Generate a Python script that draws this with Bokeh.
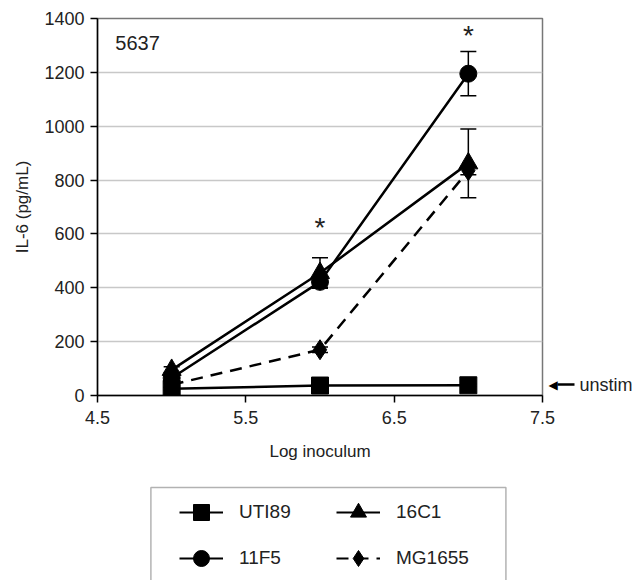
from bokeh.plotting import figure
from bokeh.layouts import column
from bokeh.models import (Range1d, FixedTicker, ColumnDataSource, Whisker, TeeHead,
                          Legend, LegendItem, Label, LinearAxis, BoxAnnotation)
from bokeh.embed import file_html
from bokeh.resources import INLINE

# ---- data ----
log_inoculum = [5, 6, 7]
uti89 = [25, 37, 38]
uti89_err = [6, 5, 5]
c16c1 = [95, 455, 862]
c16c1_err = [12, 57, 128]
f11f5 = [65, 422, 1195]
f11f5_err = [20, 20, 82]
mg1655 = [40, 170, 835]
mg1655_err = [10, 10, 15]
sig_x = [6, 7]
sig_y = [625, 1338]
unstim_level = 40
x_ticks = [4.5, 5.5, 6.5, 7.5]
y_ticks = [0, 200, 400, 600, 800, 1000, 1200, 1400]
strain_names = ["UTI89", "16C1", "11F5", "MG1655"]

FONT = "Liberation Sans"
TXT = "#222222"
NAN = float("nan")

p = figure(width=635, height=470, output_backend="svg", toolbar_location=None,
           x_range=Range1d(4.5, 7.5), y_range=Range1d(0, 1400),
           min_border_left=97, min_border_right=88, min_border_top=18, min_border_bottom=75)
p.background_fill_color = "white"
p.border_fill_color = "white"
p.outline_line_color = "#777777"
p.outline_line_width = 1.5

p.xgrid.visible = False
p.ygrid.grid_line_color = "#c8c8c8"
p.ygrid.grid_line_width = 1.5

p.xaxis.ticker = FixedTicker(ticks=x_ticks)
p.yaxis.ticker = FixedTicker(ticks=y_ticks)
for ax in (p.xaxis[0], p.yaxis[0]):
    ax.axis_line_color = "black"
    ax.axis_line_width = 1.5
    ax.major_tick_line_color = "black"
    ax.major_tick_line_width = 1.5
    ax.major_tick_in = 0
    ax.major_tick_out = 7
    ax.minor_tick_line_color = None
    ax.major_label_text_font = FONT
    ax.major_label_text_font_size = "18px"
    ax.major_label_text_color = TXT
    ax.axis_label_text_font = FONT
    ax.axis_label_text_font_size = "17px"
    ax.axis_label_text_font_style = "normal"
    ax.axis_label_text_color = TXT
p.xaxis.axis_label = "Log inoculum"
p.yaxis.axis_label = "IL-6 (pg/mL)"
p.xaxis.major_label_standoff = 8
p.xaxis.axis_label_standoff = 15
p.yaxis.major_label_standoff = 6
p.yaxis.axis_label_standoff = 9

# unstimulated level marker on the right: arrow head, then shaft + label
head_axis = LinearAxis(ticker=FixedTicker(ticks=[unstim_level]),
                       major_label_overrides={unstim_level: "\u25c0"})
head_axis.axis_line_color = None
head_axis.minor_tick_line_color = None
head_axis.major_tick_line_color = None
head_axis.major_tick_in = 0
head_axis.major_tick_out = 0
head_axis.major_label_standoff = 6
head_axis.major_label_text_font = "DejaVu Sans"
head_axis.major_label_text_font_size = "12px"
head_axis.major_label_text_color = "black"
p.add_layout(head_axis, "right")

unstim_axis = LinearAxis(ticker=FixedTicker(ticks=[unstim_level]),
                         major_label_overrides={unstim_level: "unstim"})
unstim_axis.axis_line_color = None
unstim_axis.minor_tick_line_color = None
unstim_axis.major_tick_line_color = "black"
unstim_axis.major_tick_line_width = 2.5
unstim_axis.major_tick_in = 3
unstim_axis.major_tick_out = 14
unstim_axis.major_label_standoff = 5
unstim_axis.major_label_text_font = FONT
unstim_axis.major_label_text_font_size = "18px"
unstim_axis.major_label_text_color = TXT
p.add_layout(unstim_axis, "right")

styles = {
    "UTI89": ("square", 17, "solid"),
    "16C1": ("triangle", 19, "solid"),
    "11F5": ("circle", 17, "solid"),
    "MG1655": ("diamond", 20, "12 8"),
}
values = {"UTI89": (uti89, uti89_err), "16C1": (c16c1, c16c1_err),
          "11F5": (f11f5, f11f5_err), "MG1655": (mg1655, mg1655_err)}

for name in strain_names:
    vals, errs = values[name]
    marker, size, dash = styles[name]
    src = ColumnDataSource(dict(x=log_inoculum, y=vals,
                                upper=[v + e for v, e in zip(vals, errs)],
                                lower=[v - e for v, e in zip(vals, errs)]))
    w = Whisker(source=src, base="x", upper="upper", lower="lower", dimension="height",
                line_color="black", line_width=1.5, level="underlay",
                upper_head=TeeHead(size=16, line_color="black", line_width=1.5),
                lower_head=TeeHead(size=16, line_color="black", line_width=1.5))
    p.add_layout(w)
    p.line("x", "y", source=src, line_color="black", line_width=2.5, line_dash=dash)
    p.scatter("x", "y", source=src, marker=marker, size=size,
              fill_color="black", line_color="black")

# significance asterisks
for sx, sy in zip(sig_x, sig_y):
    p.add_layout(Label(x=sx, y=sy, text="*", text_font=FONT, text_font_size="28px",
                       text_color=TXT, text_align="center", text_baseline="middle"))

# cell line label
p.add_layout(Label(x=4.62, y=1310, text="5637", text_font=FONT, text_font_size="20px",
                   text_color=TXT, text_align="left", text_baseline="middle"))

# ---- legend panel below the chart (x units = page pixels) ----
lp = figure(width=635, height=110, output_backend="svg", toolbar_location=None,
            x_range=Range1d(97, 547), y_range=Range1d(0, 110),
            min_border_left=97, min_border_right=88, min_border_top=0, min_border_bottom=0)
lp.axis.visible = False
lp.grid.visible = False
lp.outline_line_color = None
lp.background_fill_color = "white"
lp.border_fill_color = "white"

items = []
for name in strain_names:
    marker, size, dash = styles[name]
    proxy = ColumnDataSource(dict(x=[NAN], y=[NAN]))
    lr = lp.line("x", "y", source=proxy, line_color="black", line_width=2, line_dash=dash)
    sr = lp.scatter("x", "y", source=proxy, marker=marker, size=size,
                    fill_color="black", line_color="black")
    items.append(LegendItem(label=name, renderers=[lr, sr]))

legend = Legend(items=items, location=(82, 2), orientation="horizontal", nrows=2,
                border_line_color=None, background_fill_alpha=0,
                label_text_font=FONT, label_text_font_size="19px", label_text_color=TXT,
                glyph_width=44, glyph_height=40, label_height=40, label_width=91,
                label_standoff=16, spacing=6, padding=5, margin=0)
lp.add_layout(legend, "center")
lp.add_layout(BoxAnnotation(left=151, right=510, top=93, bottom=-30,
                            fill_alpha=0, line_color="black", line_width=1.5))

open("out.html", "w").write(file_html(column(p, lp, spacing=0), INLINE))
